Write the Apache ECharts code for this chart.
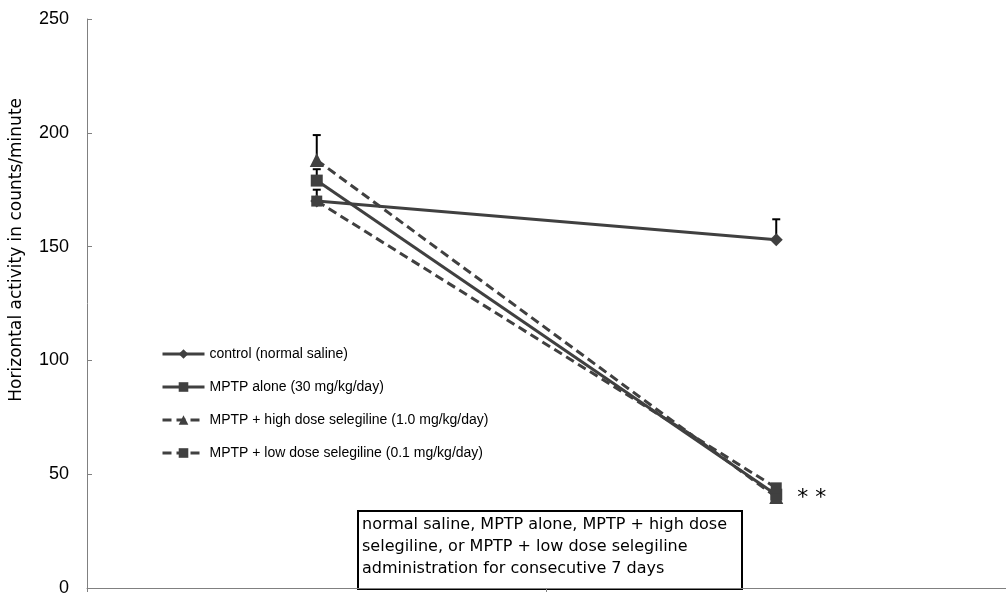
<!DOCTYPE html>
<html>
<head>
<meta charset="utf-8">
<script src="https://cdn.jsdelivr.net/npm/echarts@6/dist/echarts.min.js"></script>
<style>
html,body{margin:0;padding:0;background:#fff;}
#chart{width:1006px;height:599px;}
</style>
</head>
<body>
<div id="chart"></div>
<script>
// ---- data ----
const categories = ['Day 0', 'Day 7'];
const seriesNames = [
  'control (normal saline)',
  'MPTP alone (30 mg/kg/day)',
  'MPTP + high dose selegiline (1.0 mg/kg/day)',
  'MPTP + low dose selegiline (0.1 mg/kg/day)'
];
const controlValues = [170, 153];
const mptpValues = [179, 41];
const highDoseValues = [188, 40];
const lowDoseValues = [170, 44];
const controlErr = [5, 9];
const mptpErr = [5, 0];
const highDoseErr = [11, 0];
const lowDoseErr = [0, 0];
const yTicks = [0, 50, 100, 150, 200, 250];
const annotationText = 'normal saline, MPTP alone, MPTP + high dose\nselegiline, or MPTP + low dose selegiline\nadministration for consecutive 7 days';
const significanceLabel = '* *';

const color = '#404040';
const chart = echarts.init(document.getElementById('chart'));

function lineSeries(name, values, symbol, size, dashed, extraLabelIndex) {
  return {
    name: name,
    type: 'line',
    data: values.map((v, i) => {
      const item = { value: v };
      if (extraLabelIndex === i) {
        item.label = {
          show: true, position: 'right', distance: 15, offset: [0, 4],
          formatter: significanceLabel,
          color: '#000', fontSize: 22, fontFamily: 'DejaVu Sans'
        };
      }
      return item;
    }),
    symbol: symbol,
    symbolSize: size,
    showAllSymbol: true,
    itemStyle: { color: color, borderWidth: 0 },
    lineStyle: { color: color, width: 3, type: dashed ? [9, 5] : 'solid' },
    z: 3
  };
}

function errSeries(values, errs) {
  const data = [];
  values.forEach((v, i) => { if (errs[i] > 0) data.push([i, v, errs[i]]); });
  return {
    type: 'custom',
    data: data,
    z: 2,
    silent: true,
    renderItem: function (params, api) {
      const x = api.value(0), v = api.value(1), e = api.value(2);
      const p0 = api.coord([x, v]);
      const p1 = api.coord([x, v + e]);
      return {
        type: 'group',
        children: [
          { type: 'line', shape: { x1: p0[0], y1: p0[1], x2: p1[0], y2: p1[1] }, style: { stroke: '#000', lineWidth: 2 } },
          { type: 'line', shape: { x1: p1[0] - 4, y1: p1[1], x2: p1[0] + 4, y2: p1[1] }, style: { stroke: '#000', lineWidth: 2 } }
        ]
      };
    }
  };
}

const option = {
  animation: false,
  backgroundColor: '#fff',
  grid: { left: 87, top: 19, bottom: 11, width: 928, containLabel: false },
  legend: {
    orient: 'vertical',
    left: 161, top: 347,
    padding: 0,
    itemWidth: 42, itemHeight: 12,
    itemGap: 19,
    lineStyle: { width: 3 },
    textStyle: { color: '#000', fontSize: 14, fontFamily: 'Liberation Sans' },
    data: seriesNames
  },
  xAxis: {
    type: 'category',
    data: categories,
    boundaryGap: true,
    axisLine: { lineStyle: { color: '#808080', width: 1 } },
    axisTick: { show: true, length: 4, lineStyle: { color: '#808080' } },
    axisLabel: { show: false },
    splitLine: { show: false }
  },
  yAxis: {
    type: 'value',
    min: 0, max: 250, interval: 50,
    axisLine: { show: true, lineStyle: { color: '#808080', width: 1 } },
    axisTick: { show: true, inside: true, length: 5, lineStyle: { color: '#808080' } },
    axisLabel: {
      color: '#000', fontSize: 18, fontFamily: 'Liberation Sans', margin: 18,
      formatter: v => (yTicks.indexOf(v) >= 0 ? String(v) : '')
    },
    splitLine: { show: false }
  },
  graphic: [
    {
      type: 'text', left: 8, top: 98, rotation: Math.PI / 2,
      style: { text: 'Horizontal activity in counts/minute', fill: '#000', fontSize: 17, fontFamily: 'DejaVu Sans' }
    },
    {
      type: 'group', left: 357, top: 510,
      children: [
        { type: 'rect', shape: { x: 0, y: 0, width: 384, height: 78 }, style: { fill: '#fff', stroke: '#000', lineWidth: 2 } },
        { type: 'text', x: 4, y: 3, style: { text: annotationText, fill: '#000', fontSize: 16, lineHeight: 22, fontFamily: 'DejaVu Sans' } }
      ],
      z: 10
    }
  ],
  series: [
    lineSeries(seriesNames[0], controlValues, 'diamond', 13, false),
    lineSeries(seriesNames[1], mptpValues, 'rect', 12, false, 1),
    lineSeries(seriesNames[2], highDoseValues, 'triangle', 14, true),
    lineSeries(seriesNames[3], lowDoseValues, 'rect', 11, true),
    errSeries(controlValues, controlErr),
    errSeries(mptpValues, mptpErr),
    errSeries(highDoseValues, highDoseErr),
    errSeries(lowDoseValues, lowDoseErr)
  ]
};
chart.setOption(option);
</script>
</body>
</html>
